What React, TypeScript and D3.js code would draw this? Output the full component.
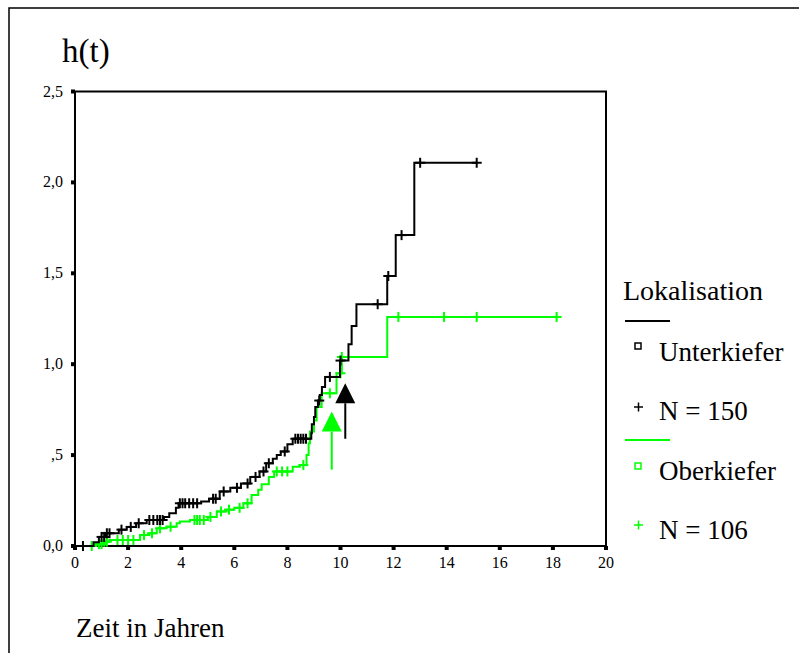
import React from "react";
import * as d3 from "d3";

// Cumulative hazard h(t) by jaw location
const xTicks = [0, 2, 4, 6, 8, 10, 12, 14, 16, 18, 20];
const yTicks = [0, 0.5, 1, 1.5, 2, 2.5];
const yTickLabels = ["0,0", ",5", "1,0", "1,5", "2,0", "2,5"];

// Unterkiefer (N = 150): event steps [time, h after step]
const unterSteps: [number, number][] = [
  [0, 0], [0.7, 0.02], [0.9, 0.05], [1.15, 0.07], [1.65, 0.09], [1.95, 0.105],
  [2.3, 0.125], [2.7, 0.143], [3.35, 0.16], [3.55, 0.18], [3.8, 0.21], [3.9, 0.235],
  [4.75, 0.245], [5.05, 0.26], [5.45, 0.3], [5.85, 0.32], [6.25, 0.344], [6.6, 0.38],
  [6.95, 0.41], [7.2, 0.455], [7.45, 0.48], [7.6, 0.5], [7.75, 0.52], [8.0, 0.56],
  [8.2, 0.59], [8.9, 0.62], [8.92, 0.67], [9.0, 0.71], [9.05, 0.765], [9.15, 0.8],
  [9.22, 0.83], [9.3, 0.875], [9.42, 0.93], [9.98, 1.02], [10.3, 1.11], [10.42, 1.21],
  [10.6, 1.33], [11.76, 1.485], [12.08, 1.71], [12.78, 2.108],
];
const unterEnd = 15.13;
const unterCensored = [
  0.3, 1.0, 1.1, 1.2, 1.3, 1.75, 2.1, 2.4, 2.8, 2.95, 3.1, 3.2, 3.3, 3.95, 4.05,
  4.15, 4.3, 4.45, 4.6, 5.2, 5.3, 5.6, 6.1, 6.5, 6.8, 7.1, 7.3, 7.9, 8.3, 8.4, 8.5,
  8.6, 8.7, 9.2, 9.6, 10.0, 11.4, 11.8, 12.3, 13.0, 15.13,
];

// Oberkiefer (N = 106)
const oberSteps: [number, number][] = [
  [0, 0], [0.8, 0.01], [1.05, 0.024], [1.3, 0.033], [2.45, 0.06], [2.8, 0.07],
  [3.08, 0.097], [3.45, 0.106], [3.83, 0.125], [3.95, 0.135], [4.33, 0.143],
  [5.0, 0.16], [5.34, 0.19], [5.71, 0.2], [6.0, 0.21], [6.34, 0.235], [6.65, 0.28],
  [6.9, 0.31], [7.03, 0.34], [7.3, 0.38], [7.5, 0.41], [8.2, 0.436], [8.47, 0.445],
  [8.72, 0.5], [8.8, 0.565], [8.85, 0.63], [9.0, 0.69], [9.1, 0.765], [9.29, 0.84],
  [9.85, 0.95], [10.05, 1.04], [11.76, 1.26],
];
const oberEnd = 18.1;
const oberCensored = [
  0.63, 0.9, 1.0, 1.1, 1.2, 1.6, 1.8, 2.0, 2.2, 2.6, 2.9, 3.2, 3.6, 4.5, 4.6, 4.7,
  4.85, 5.1, 5.5, 5.8, 6.2, 6.5, 7.6, 7.8, 8.0, 8.6, 9.6, 10.0, 10.05, 12.18, 13.9,
  15.13, 18.14,
];

// Arrow annotations: [time, tail h, tip h]
const arrowBlack: [number, number, number] = [10.18, 0.59, 0.895];
const arrowGreen: [number, number, number] = [9.67, 0.42, 0.74];

const GREEN = "#00ff00";
const FONT = "'Liberation Serif', 'Times New Roman', serif";

const x = d3.scaleLinear().domain([0, 20]).range([75, 606]);
const y = d3.scaleLinear().domain([0, 2.5]).range([546, 91.5]);

const stepLine = d3
  .line<[number, number]>()
  .x((d) => x(d[0]))
  .y((d) => y(d[1]))
  .curve(d3.curveStepAfter);

function valueAt(steps: [number, number][], t: number) {
  let v = 0;
  for (const [s, h] of steps) if (s <= t) v = h;
  return v;
}

function Series({ steps, end, censored, color }: {
  steps: [number, number][]; end: number; censored: number[]; color: string;
}) {
  const pts: [number, number][] = [...steps, [end, steps[steps.length - 1][1]]];
  return (
    <g>
      <path d={stepLine(pts) || ""} fill="none" stroke={color} strokeWidth={2} />
      {censored.map((t, i) => {
        const cx = x(t);
        const cy = y(valueAt(steps, t));
        return (
          <g key={i} stroke={color} strokeWidth={2}>
            <line x1={cx - 5} x2={cx + 5} y1={cy} y2={cy} />
            <line x1={cx} x2={cx} y1={cy - 5} y2={cy + 5} />
          </g>
        );
      })}
    </g>
  );
}

function Arrow({ a, color }: { a: [number, number, number]; color: string }) {
  const ax = x(a[0]);
  const tail = y(a[1]);
  const tip = y(a[2]);
  const head = 20;
  return (
    <g>
      <line x1={ax} x2={ax} y1={tail} y2={tip + head} stroke={color} strokeWidth={2} />
      <path d={`M${ax},${tip} L${ax - 10},${tip + head} L${ax + 10},${tip + head} Z`} fill={color} />
    </g>
  );
}

export default function App() {
  return (
    <svg width={807} height={653} style={{ position: "absolute", left: 0, top: 0, background: "#fff" }}
      fontFamily={FONT}>
      {/* outer frame */}
      <path d="M9,660 L9,8 L799,8" fill="none" stroke="#000" strokeWidth={1.5} />

      <text x={62} y={62} fontSize={33}>h(t)</text>

      {/* plot box */}
      <rect x={x(0)} y={y(2.5)} width={x(20) - x(0)} height={y(0) - y(2.5)} fill="none" stroke="#000" strokeWidth={2} />

      {yTicks.map((v, i) => (
        <g key={v}>
          <rect x={x(0) - 4} y={y(v) - 2} width={4} height={4} fill="#000" />
          <text x={63} y={y(v) + 5} fontSize={16} textAnchor="end">{yTickLabels[i]}</text>
        </g>
      ))}
      {xTicks.map((v) => (
        <g key={v}>
          <rect x={x(v) - 2} y={y(0)} width={4} height={4} fill="#000" />
          <text x={x(v)} y={568} fontSize={16} textAnchor="middle">{v}</text>
        </g>
      ))}

      <Series steps={oberSteps} end={oberEnd} censored={oberCensored} color={GREEN} />
      <Series steps={unterSteps} end={unterEnd} censored={unterCensored} color="#000" />

      <Arrow a={arrowGreen} color={GREEN} />
      <Arrow a={arrowBlack} color="#000" />

      {/* legend */}
      <text x={623} y={300} fontSize={28}>Lokalisation</text>
      <line x1={625} x2={670} y1={321} y2={321} stroke="#000" strokeWidth={2} />
      <rect x={635} y={343} width={6} height={6} fill="none" stroke="#000" strokeWidth={1.5} />
      <text x={659} y={361} fontSize={27}>Unterkiefer</text>
      <g stroke="#000" strokeWidth={1.5}>
        <line x1={634} x2={643} y1={407} y2={407} />
        <line x1={638.5} x2={638.5} y1={402.5} y2={411.5} />
      </g>
      <text x={659} y={420} fontSize={27}>N = 150</text>
      <line x1={625} x2={670} y1={440} y2={440} stroke={GREEN} strokeWidth={2} />
      <rect x={635} y={463} width={6} height={6} fill="none" stroke={GREEN} strokeWidth={1.5} />
      <text x={659} y={480} fontSize={27}>Oberkiefer</text>
      <g stroke={GREEN} strokeWidth={1.5}>
        <line x1={634} x2={643} y1={525} y2={525} />
        <line x1={638.5} x2={638.5} y1={520.5} y2={529.5} />
      </g>
      <text x={659} y={539} fontSize={27}>N = 106</text>

      <text x={76} y={637} fontSize={27}>Zeit in Jahren</text>
    </svg>
  );
}
